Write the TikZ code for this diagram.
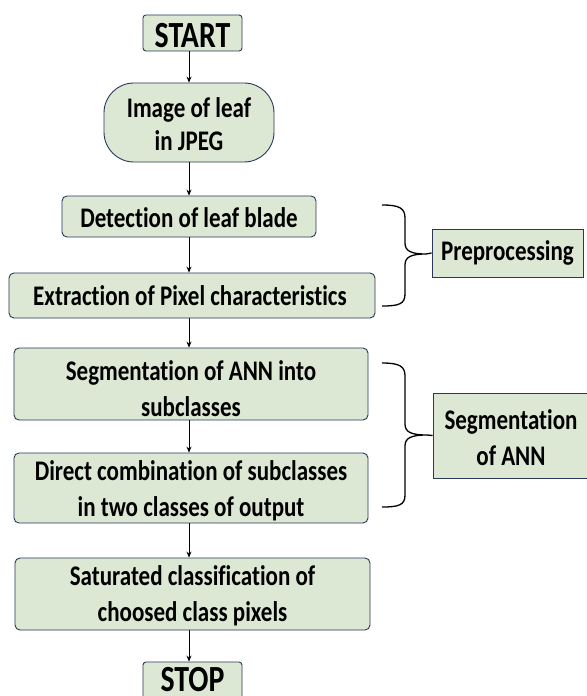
\documentclass[tikz,border=0pt]{standalone}
\usepackage{fontspec}
\setmainfont{Carlito}[FakeStretch=0.81, Ligatures=NoCommon]
\usetikzlibrary{arrows.meta}
\definecolor{boxfill}{RGB}{221,232,212}
\definecolor{boxline}{RGB}{40,55,90}
\tikzset{
  flowbox/.style={draw=boxline, fill=boxfill, line width=0.9pt, rounded corners=5pt, inner sep=0pt},
  sidebox/.style={draw=boxline, fill=boxfill, line width=0.9pt, inner sep=0pt},
  caption/.style={font=\bfseries\fontsize{28.5}{36}\selectfont, align=center, inner sep=0pt, text=black},
  bigcaption/.style={font=\bfseries\fontsize{37}{40}\selectfont, inner sep=0pt, text=black},
  flow/.style={-{Stealth[length=6pt,width=5pt]}, line width=0.8pt},
  bracket/.style={line width=1.3pt}
}
\begin{document}
\begin{tikzpicture}[x=1bp, y=-1bp]
\useasboundingbox (0,0) rectangle (587,696);
\clip (0,0) rectangle (587,696);
\fill[white] (0,0) rectangle (587,696);

% vertical line of the flow arrows
\coordinate (axis) at (189,0);

% main column
\node[flowbox, minimum width=99bp, minimum height=36bp, rounded corners=3pt] (start) at (192.5,33) {};
\node[bigcaption, anchor=base] (startt) at ([yshift=4bp]start.south) {START};

\node[flowbox, minimum width=170bp, minimum height=79bp, rounded corners=30pt] (img) at (189,122.5) {};
\node[caption, font=\bfseries\fontsize{28.5}{33}\selectfont] (imgt) at ([yshift=-1.5bp]img.center) {Image of leaf\\in JPEG};

\node[flowbox, minimum width=254bp, minimum height=41bp] (det) at (189,216.5) {};
\node[caption] (dett) at ([yshift=-1bp]det.center) {Detection of leaf blade};

\node[flowbox, minimum width=366bp, minimum height=45bp] (ext) at (192,295.5) {};
\node[caption] (extt) at ([xshift=-2bp]ext.center) {Extraction of Pixel characteristics};

\node[flowbox, minimum width=354bp, minimum height=72bp] (seg) at (191,384) {};
\node[caption] (segt) at ([yshift=-5bp]seg.center) {Segmentation of ANN into\\subclasses};

\node[flowbox, minimum width=354bp, minimum height=70bp] (dir) at (191,488) {};
\node[caption] (dirt) at ([yshift=-3bp]dir.center) {Direct combination of subclasses\\in two classes of output};

\node[flowbox, minimum width=355bp, minimum height=72bp] (sat) at (192.5,594) {};
\node[caption] (satt) at ([yshift=-2bp]sat.center) {Saturated classification of\\choosed class pixels};

\node[flowbox, minimum width=99bp, minimum height=44bp, rounded corners=3pt] (stop) at (192.5,684) {};
\node[bigcaption, anchor=base] (stopt) at ([yshift=-30bp]stop.north) {STOP};

% arrows
\draw[flow] (start.south -| axis) -- (img.north -| axis);
\draw[flow] (img.south -| axis) -- (det.north -| axis);
\draw[flow] (det.south -| axis) -- (ext.north -| axis);
\draw[flow] (ext.south -| axis) -- (seg.north -| axis);
\draw[flow] (seg.south -| axis) -- (dir.north -| axis);
\draw[flow] (dir.south -| axis) -- (sat.north -| axis);
\draw[flow] (sat.south -| axis) -- (stop.north -| axis);

% side groups
\node[sidebox, minimum width=151bp, minimum height=48bp] (pre) at (507.5,253) {};
\node[caption] (pret) at (pre.center) {Preprocessing};

\node[sidebox, minimum width=156bp, minimum height=85bp] (san) at (511,435.5) {};
\node[caption] (sant) at ([yshift=-2bp]san.center) {Segmentation\\of ANN};

% brackets
\coordinate (pretip) at (426,254);
\draw[bracket] (382,205) .. controls (399,205) and (405,208) .. (405,218) -- (405,243)
  .. controls (405,251) and (411,254) .. (pretip)
  .. controls (411,254) and (405,257) .. (405,265) -- (405,294)
  .. controls (405,304) and (399,306) .. (382,306);
\draw[bracket] (pretip) -- (pre.west);

\coordinate (santip) at (427,435);
\draw[bracket] (382,363) .. controls (399,363) and (405,366) .. (405,376) -- (405,424)
  .. controls (405,432) and (411,435) .. (santip)
  .. controls (411,435) and (405,438) .. (405,446) -- (405,495)
  .. controls (405,505) and (399,507) .. (382,507);
\draw[bracket] (santip) -- (san.west);
\end{tikzpicture}
\end{document}
